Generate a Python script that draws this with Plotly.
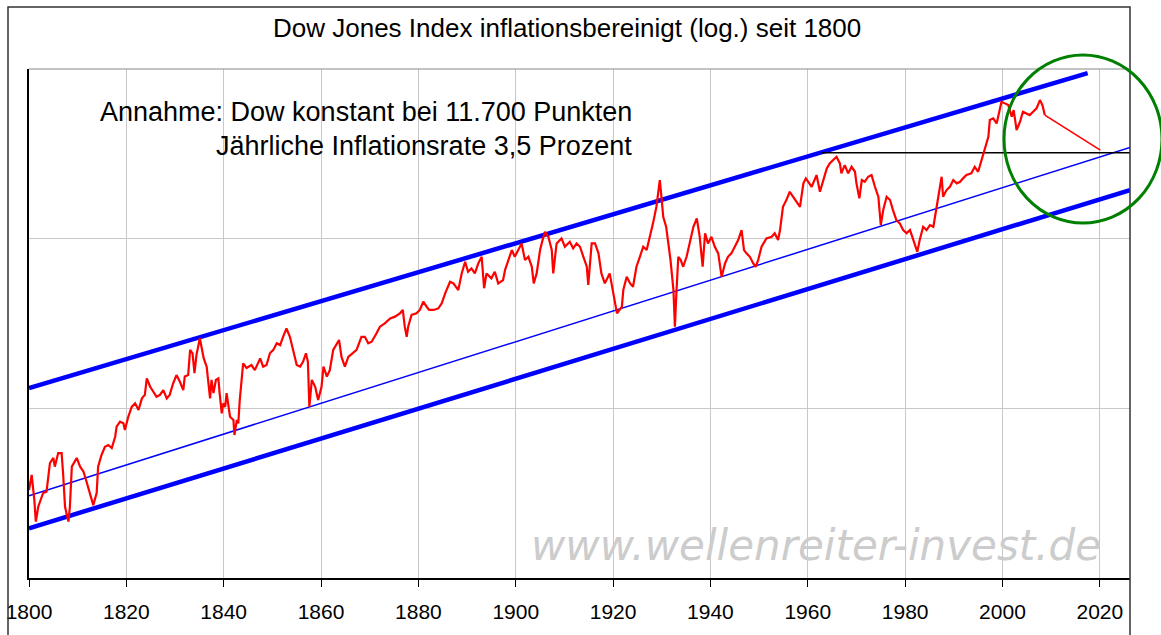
import plotly.graph_objects as go

# ---------------- data ----------------
years = [
    1800.0, 1800.55, 1801.1, 1801.4, 1801.9, 1802.9, 1803.6, 1804.3, 1805.0, 1805.3,
    1806.0, 1806.7, 1807.0, 1807.4, 1808.1, 1808.4, 1808.8, 1809.8, 1810.5, 1811.2,
    1811.9, 1812.5, 1813.2, 1813.9, 1814.2, 1814.9, 1815.6, 1816.3, 1817.0, 1817.7,
    1818.0, 1818.7, 1819.4, 1819.7, 1820.4, 1821.1, 1821.8, 1822.5, 1823.2, 1823.8,
    1824.2, 1824.9, 1825.5, 1826.2, 1826.9, 1827.6, 1828.3, 1828.9, 1829.6, 1830.3,
    1831.0, 1831.7, 1832.0, 1832.7, 1833.1, 1833.6, 1834.0, 1834.4, 1835.1, 1835.5,
    1835.9, 1836.5, 1836.8, 1837.2, 1837.5, 1837.9, 1838.4, 1838.9, 1839.2, 1839.6,
    1839.9, 1840.3, 1840.6, 1840.9, 1841.3, 1842.0, 1842.2, 1842.7, 1843.0, 1843.3,
    1843.7, 1844.0, 1844.7, 1845.7, 1846.4, 1847.5, 1848.1, 1848.8, 1849.5, 1850.2,
    1850.9, 1851.6, 1852.2, 1852.9, 1853.6, 1854.3, 1855.0, 1855.7, 1856.3, 1856.9,
    1857.3, 1857.6, 1858.1, 1858.8, 1859.4, 1860.1, 1860.5, 1861.2, 1861.8, 1862.5,
    1863.2, 1863.7, 1864.2, 1864.9, 1865.6, 1866.6, 1867.3, 1868.3, 1869.0, 1869.7,
    1870.4, 1871.4, 1872.1, 1873.1, 1874.2, 1875.2, 1876.2, 1876.8, 1877.2, 1877.6,
    1877.9, 1878.6, 1879.6, 1880.3, 1881.0, 1881.7, 1882.2, 1883.1, 1884.1, 1884.8,
    1885.5, 1886.5, 1887.2, 1888.2, 1888.9, 1889.6, 1890.2, 1890.9, 1891.6, 1892.3,
    1893.0, 1893.5, 1894.0, 1895.0, 1895.7, 1896.4, 1897.4, 1897.8, 1898.5, 1899.2,
    1899.8, 1900.5, 1901.2, 1901.9, 1902.6, 1903.3, 1903.7, 1904.3, 1905.0, 1905.6,
    1906.0, 1906.7, 1907.4, 1907.7, 1908.4, 1909.4, 1910.1, 1911.1, 1911.8, 1912.5,
    1913.2, 1913.9, 1914.6, 1914.9, 1915.6, 1916.3, 1917.0, 1917.6, 1918.3, 1919.3,
    1920.0, 1920.4, 1920.8, 1921.8, 1922.1, 1922.8, 1923.5, 1924.1, 1924.8, 1925.5,
    1926.2, 1926.9, 1927.6, 1928.2, 1928.9, 1929.3, 1929.6, 1930.0, 1930.3, 1930.9,
    1931.3, 1931.8, 1932.4, 1932.7, 1933.0, 1933.4, 1933.9, 1934.4, 1935.1, 1935.8,
    1936.5, 1937.2, 1937.8, 1938.4, 1938.9, 1939.5, 1940.2, 1940.9, 1941.6, 1942.3,
    1943.0, 1943.6, 1944.3, 1945.0, 1945.7, 1946.4, 1946.9, 1947.4, 1948.1, 1948.8,
    1949.3, 1949.8, 1950.5, 1951.5, 1952.6, 1953.2, 1953.9, 1954.3, 1954.9, 1955.6,
    1956.3, 1957.0, 1957.7, 1958.4, 1959.1, 1959.6, 1960.1, 1960.8, 1961.8, 1962.5,
    1963.2, 1963.9, 1964.5, 1965.2, 1965.9, 1966.6, 1966.9, 1967.6, 1968.3, 1969.0,
    1969.7, 1970.0, 1970.6, 1971.1, 1971.7, 1972.4, 1973.1, 1973.8, 1974.5, 1975.0,
    1975.5, 1976.2, 1976.9, 1977.5, 1978.2, 1978.9, 1979.6, 1980.3, 1981.0, 1981.7,
    1982.5, 1983.0, 1983.7, 1984.4, 1985.1, 1985.8, 1986.4, 1986.8, 1987.1, 1987.5,
    1987.8, 1988.5, 1989.2, 1989.9, 1990.6, 1991.3, 1991.9, 1992.6, 1993.6, 1994.3,
    1995.0, 1995.7, 1996.4, 1997.1, 1997.4, 1998.1, 1998.8, 1999.3, 1999.8, 2000.5,
    2001.2, 2001.9, 2002.3, 2002.9, 2003.6, 2004.2, 2004.9, 2005.6, 2006.3, 2007.0,
    2007.7, 2008.2, 2008.7,
]
dow_real = [
    33.0, 40.5, 28.8, 21.5, 26.3, 31.7, 32.3, 47.6, 51.0, 45.3,
    54.5, 54.5, 41.6, 26.3, 21.5, 26.3, 45.3, 51.0, 45.3, 42.3,
    36.3, 31.7, 26.9, 31.7, 45.3, 53.1, 59.4, 60.8, 58.4, 68.0,
    77.9, 83.4, 81.6, 74.5, 89.2, 102, 107, 97.7, 114.5, 120,
    150, 134, 125, 117, 120, 128, 114.5, 120, 140, 157,
    143.5, 128, 154, 157, 221, 211, 161, 206, 259, 231,
    197, 176, 150, 114.5, 147, 123, 147, 150, 120, 93.4,
    107, 102, 123, 107, 89.2, 85.3, 69.6, 85.3, 81.6, 112,
    147, 184, 173, 180, 168, 197, 176, 180, 211, 221,
    242, 236, 264, 296, 264, 221, 180, 176, 188, 211,
    188, 102, 147, 134, 112, 134, 176, 154, 168, 221,
    242, 253, 201, 176, 201, 211, 221, 264, 264, 242,
    247, 277, 303, 317, 339, 347, 363, 380, 303, 264,
    303, 355, 363, 380, 425, 397, 380, 380, 388, 416,
    476, 557, 545, 498, 624, 731, 638, 668, 624, 715,
    782, 510, 624, 584, 638, 545, 570, 653, 748, 857,
    782, 857, 938, 748, 782, 683, 545, 624, 857, 1004,
    1098, 1026, 857, 624, 938, 1004, 896, 959, 877, 938,
    896, 782, 683, 533, 938, 938, 819, 624, 545, 624,
    476, 425, 363, 397, 498, 596, 545, 521, 683, 782,
    896, 857, 1026, 1231, 1542, 1934, 2215, 1689, 1346, 1175,
    981, 748, 498, 303, 476, 782, 748, 683, 782, 981,
    1175, 1317, 1026, 683, 1075, 938, 1026, 896, 819, 596,
    715, 782, 819, 896, 981, 1124, 857, 819, 782, 715,
    683, 748, 896, 1004, 1026, 1075, 981, 1124, 1542, 1689,
    1890, 1766, 1650, 1542, 2118, 2267, 2164, 2022, 2371, 1890,
    2215, 2596, 2778, 2905, 3038, 2778, 2426, 2715, 2426, 2653,
    2479, 2118, 1728, 2215, 2164, 2317, 2371, 2022, 1766, 1202,
    1474, 1766, 1689, 1474, 1287, 1231, 1124, 1075, 1124, 981,
    837, 981, 1175, 1124, 1202, 1175, 1474, 1766, 2022, 2317,
    1766, 1934, 2022, 2215, 2118, 2164, 2267, 2371, 2426, 2653,
    2479, 2905, 3480, 3986, 5000, 5116, 4780, 5475, 6409, 6272,
    6129, 5228, 5725, 4365, 4886, 5595, 5475, 5350, 5595, 5860,
    6558, 6129, 5350,
]

forecast_years = [2008.7, 2020.1]
forecast_values = [5350, 3328]

level_years = [1962.8, 2026.2]
level_values = [3208, 3208]

upper_years = [1800, 2017.5]
upper_values = [131.7, 9458]
middle_years = [1800, 2026.2]
middle_values = [30.55, 3451]
lower_years = [1800, 2026.2]
lower_values = [19.63, 1934]

x_ticks = [1800, 1820, 1840, 1860, 1880, 1900, 1920, 1940, 1960, 1980, 2000, 2020]
y_grid = [10, 100, 1000, 10000]

title_text = "Dow Jones Index inflationsbereinigt (log.) seit 1800"
note_line1 = "Annahme: Dow konstant bei 11.700 Punkten"
note_line2 = "Jährliche Inflationsrate 3,5 Prozent"
watermark = "www.wellenreiter-invest.de"

# ---------------- figure ----------------
W, H = 1161, 635
L, R, T, B = 29, 31, 69, 57
PW, PH = W - L - R, H - T - B


def px(xp):
    return (xp - L) / PW


def py(yp):
    return (H - B - yp) / PH


FONT = "Liberation Sans, Arial, sans-serif"

fig = go.Figure()
fig.add_trace(go.Scatter(x=upper_years, y=upper_values, mode="lines",
                         line=dict(color="#0000ff", width=4.5), hoverinfo="skip"))
fig.add_trace(go.Scatter(x=lower_years, y=lower_values, mode="lines",
                         line=dict(color="#0000ff", width=4.5), hoverinfo="skip"))
fig.add_trace(go.Scatter(x=middle_years, y=middle_values, mode="lines",
                         line=dict(color="#0000ff", width=1.5), hoverinfo="skip"))
fig.add_trace(go.Scatter(x=level_years, y=level_values, mode="lines",
                         line=dict(color="#000000", width=1.5), hoverinfo="skip"))
fig.add_trace(go.Scatter(x=years, y=dow_real, mode="lines",
                         line=dict(color="#ff0000", width=2.2)))
fig.add_trace(go.Scatter(x=forecast_years, y=forecast_values, mode="lines",
                         line=dict(color="#ff0000", width=1.6)))

fig.update_layout(
    width=W, height=H,
    margin=dict(l=L, r=R, t=T, b=B, pad=0, autoexpand=False),
    paper_bgcolor="white", plot_bgcolor="white",
    showlegend=False,
    hovermode=False,
    font=dict(family=FONT, color="black"),
    xaxis=dict(
        range=[1800, 2026.2], tickmode="array", tickvals=x_ticks,
        ticktext=[str(t) for t in x_ticks],
        showgrid=True, gridcolor="#c8c8c8", gridwidth=1,
        showline=True, linecolor="black", linewidth=1.5,
        ticks="outside", ticklen=7, tickcolor="black", tickwidth=1,
        ticklabelstandoff=7,
        tickfont=dict(family=FONT, size=21, color="black"),
        zeroline=False, automargin=False,
    ),
    yaxis=dict(
        type="log", range=[1, 4], tickmode="array", tickvals=y_grid,
        showticklabels=False, ticks="",
        showgrid=True, gridcolor="#c8c8c8", gridwidth=1,
        showline=True, linecolor="black", linewidth=1.5,
        zeroline=False, automargin=False,
    ),
    annotations=[
        dict(text=title_text, xref="paper", yref="paper", x=px(567), y=py(28),
             xanchor="center", yanchor="middle", showarrow=False,
             font=dict(family=FONT, size=26, color="black")),
        dict(text=note_line1, xref="paper", yref="paper", x=px(634), y=py(112),
             xanchor="right", yanchor="middle", showarrow=False,
             font=dict(family=FONT, size=27, color="black")),
        dict(text=note_line2, xref="paper", yref="paper", x=px(634), y=py(146),
             xanchor="right", yanchor="middle", showarrow=False,
             font=dict(family=FONT, size=27, color="black")),
        dict(text="<i>" + watermark + "</i>", xref="paper", yref="paper",
             x=px(816), y=py(545), xanchor="center", yanchor="middle",
             showarrow=False,
             font=dict(family="DejaVu Sans, Verdana, sans-serif", size=42, color="#cccccc")),
    ],
    shapes=[
        # outer frame
        dict(type="rect", xref="paper", yref="paper", x0=px(8), x1=px(1130),
             y0=py(700), y1=py(7), line=dict(color="#333333", width=1.5),
             fillcolor="rgba(0,0,0,0)", layer="above"),
        # top border of plot area
        dict(type="line", xref="paper", yref="paper", x0=0, x1=1, y0=1, y1=1,
             line=dict(color="#888888", width=1), layer="above"),
        # green highlight circle
        dict(type="circle", xref="paper", yref="paper",
             x0=px(1004), x1=px(1162), y0=py(223), y1=py(55),
             line=dict(color="#008000", width=3), layer="above"),
    ],
)

fig.write_html("out.html", config={"displayModeBar": False},
               post_script="document.body.style.margin='0px';")
